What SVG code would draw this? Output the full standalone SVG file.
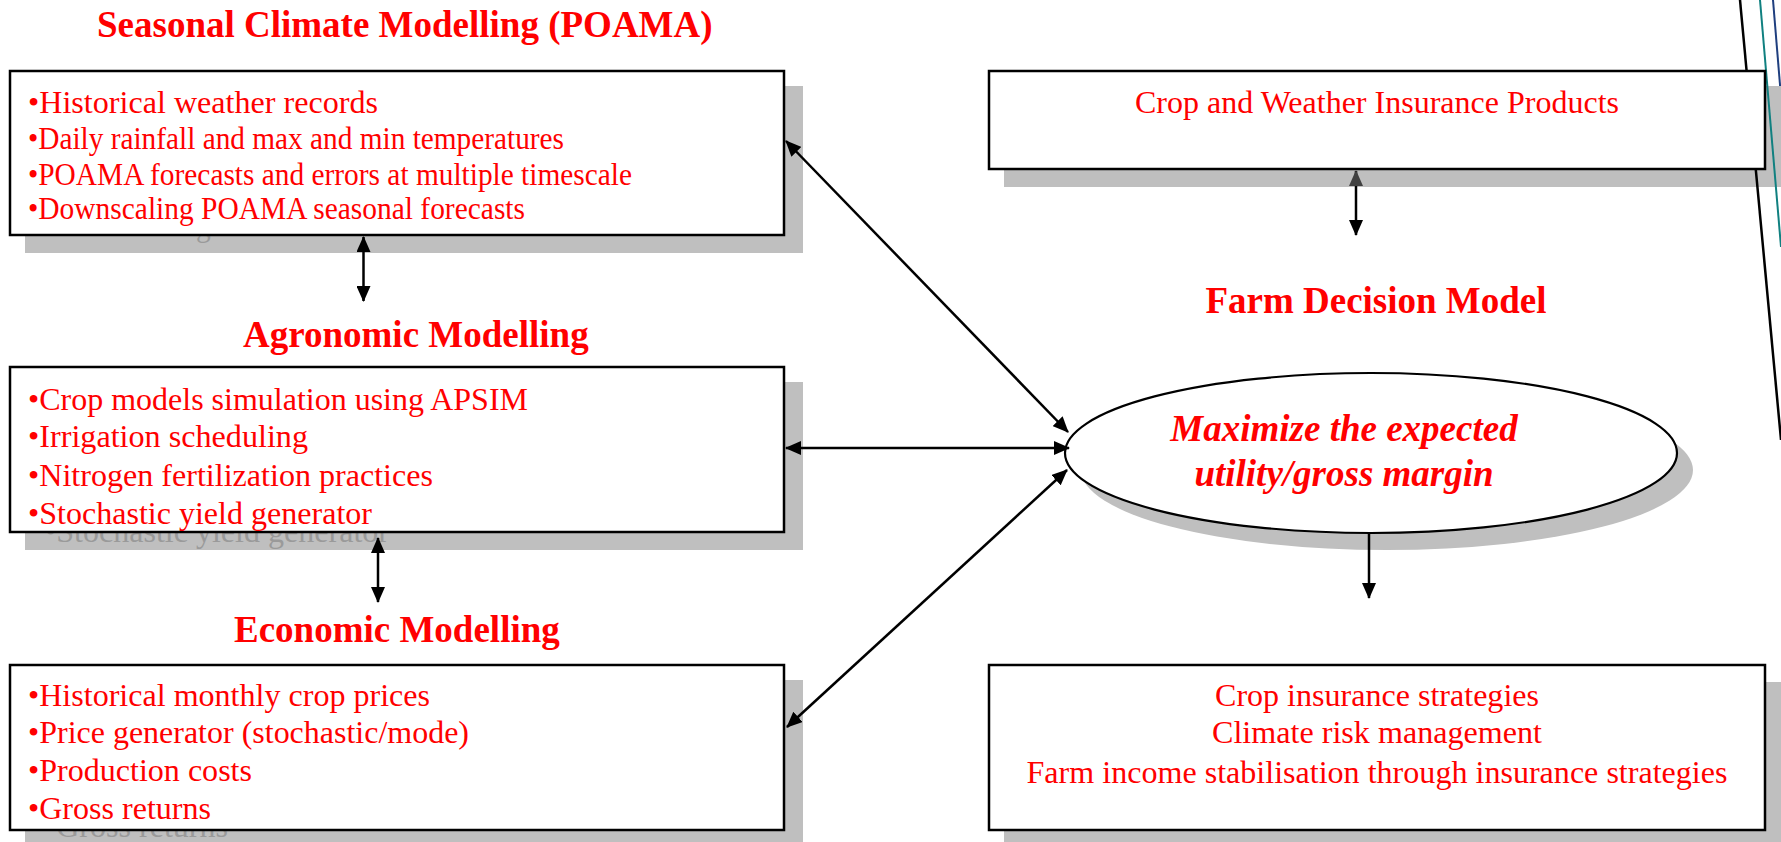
<svg xmlns="http://www.w3.org/2000/svg" width="1781" height="842" viewBox="0 0 1781 842">
<style>
.bg{fill:#ffffff}
.shadow{fill:#bfbfbf;stroke:none}
.box{fill:#ffffff;stroke:#000000;stroke-width:2.5}
.title{font-family:"Liberation Serif","Times New Roman",serif;font-weight:bold;font-size:37px;fill:#ff0000}
.item{font-family:"Liberation Serif","Times New Roman",serif;font-size:32px;fill:#ff0000}
.ghost{font-family:"Liberation Serif","Times New Roman",serif;font-size:32px;fill:#9a9a9a}
.center{text-anchor:middle}
.emph{font-family:"Liberation Serif","Times New Roman",serif;font-weight:bold;font-style:italic;font-size:37px;fill:#ff0000;text-anchor:middle}
.conn{stroke:#000000;stroke-width:2.5;fill:none}
</style>
<defs>
<marker id="ah" viewBox="0 0 16 14" refX="15" refY="7" markerWidth="16" markerHeight="14" markerUnits="userSpaceOnUse" orient="auto-start-reverse">
<path d="M0,0 L16,7 L0,14 z" fill="#000000"/>
</marker>
<marker id="ahg" viewBox="0 0 16 14" refX="15" refY="7" markerWidth="16" markerHeight="14" markerUnits="userSpaceOnUse" orient="auto-start-reverse">
<path d="M0,0 L16,7 L0,14 z" fill="#404040"/>
</marker>
</defs>
<rect class="bg" x="0" y="0" width="1781" height="842"/>

<g id="deco-lines">
<line x1="1773" y1="0" x2="1781" y2="97" stroke="#1f3f7f" stroke-width="2"/>
</g>

<text class="title" x="97" y="37">Seasonal Climate Modelling (POAMA)</text>
<text class="title" x="243" y="347">Agronomic Modelling</text>
<text class="title" x="234" y="642">Economic Modelling</text>
<text class="title center" x="1376" y="313">Farm Decision Model</text>

<g id="seasonal-box">
<rect class="shadow" x="25" y="86" width="778" height="167"/>
<text class="ghost" x="45" y="236" textLength="497" lengthAdjust="spacingAndGlyphs">•Downscaling POAMA seasonal forecasts</text>
<rect class="box" x="10" y="71" width="774" height="164"/>
<text class="item" x="28" y="113" textLength="350" lengthAdjust="spacingAndGlyphs">•Historical weather records</text>
<text class="item" x="28" y="149" textLength="536" lengthAdjust="spacingAndGlyphs">•Daily rainfall and max and min temperatures</text>
<text class="item" x="28" y="185" textLength="604" lengthAdjust="spacingAndGlyphs">•POAMA forecasts and errors at multiple timescale</text>
<text class="item" x="28" y="219" textLength="497" lengthAdjust="spacingAndGlyphs">•Downscaling POAMA seasonal forecasts</text>
</g>

<g id="agronomic-box">
<rect class="shadow" x="25" y="382" width="778" height="168"/>
<text class="ghost" x="45" y="542" textLength="344" lengthAdjust="spacingAndGlyphs">•Stochastic yield generator</text>
<rect class="box" x="10" y="367" width="774" height="165"/>
<text class="item" x="28" y="410" textLength="500" lengthAdjust="spacingAndGlyphs">•Crop models simulation using APSIM</text>
<text class="item" x="28" y="447" textLength="280" lengthAdjust="spacingAndGlyphs">•Irrigation scheduling</text>
<text class="item" x="28" y="486" textLength="405" lengthAdjust="spacingAndGlyphs">•Nitrogen fertilization practices</text>
<text class="item" x="28" y="524" textLength="344" lengthAdjust="spacingAndGlyphs">•Stochastic yield generator</text>
</g>

<g id="economic-box">
<rect class="shadow" x="25" y="680" width="778" height="162"/>
<text class="ghost" x="45" y="837" textLength="183" lengthAdjust="spacingAndGlyphs">•Gross returns</text>
<rect class="box" x="10" y="665" width="774" height="165"/>
<text class="item" x="28" y="706" textLength="402" lengthAdjust="spacingAndGlyphs">•Historical monthly crop prices</text>
<text class="item" x="28" y="743" textLength="441" lengthAdjust="spacingAndGlyphs">•Price generator (stochastic/mode)</text>
<text class="item" x="28" y="781" textLength="224" lengthAdjust="spacingAndGlyphs">•Production costs</text>
<text class="item" x="28" y="819" textLength="183" lengthAdjust="spacingAndGlyphs">•Gross returns</text>
</g>

<g id="insurance-box">
<rect class="shadow" x="1004" y="86" width="790" height="101"/>
<line x1="1740" y1="0" x2="1781" y2="440" stroke="#000000" stroke-width="2.5"/>
<line x1="1760" y1="0" x2="1781" y2="247" stroke="#108080" stroke-width="2"/>
<rect class="box" x="989" y="71" width="776" height="98"/>
<text class="item center" x="1377" y="113" textLength="484" lengthAdjust="spacingAndGlyphs">Crop and Weather Insurance Products</text>
</g>

<g id="decision-ellipse">
<ellipse class="shadow" cx="1387" cy="470" rx="306" ry="80"/>
<ellipse cx="1371" cy="453" rx="306" ry="80" fill="#ffffff" stroke="#000000" stroke-width="2.2"/>
<text class="emph" x="1344" y="441">Maximize the expected</text>
<text class="emph" x="1344" y="486">utility/gross margin</text>
</g>

<g id="outcomes-box">
<rect class="shadow" x="1004" y="682" width="790" height="160"/>
<rect class="box" x="989" y="665" width="776" height="165"/>
<text class="item center" x="1377" y="706" textLength="324" lengthAdjust="spacingAndGlyphs">Crop insurance strategies</text>
<text class="item center" x="1377" y="743" textLength="330" lengthAdjust="spacingAndGlyphs">Climate risk management</text>
<text class="item center" x="1377" y="783" textLength="701" lengthAdjust="spacingAndGlyphs">Farm income stabilisation through insurance strategies</text>
</g>

<g id="connectors">
<line class="conn" x1="786" y1="141" x2="1068" y2="432" marker-start="url(#ah)" marker-end="url(#ah)"/>
<line class="conn" x1="786" y1="448" x2="1069" y2="448" marker-start="url(#ah)" marker-end="url(#ah)"/>
<line class="conn" x1="787" y1="727" x2="1067" y2="470" marker-start="url(#ah)" marker-end="url(#ah)"/>
<line class="conn" x1="363.5" y1="237" x2="363.5" y2="301" marker-start="url(#ah)" marker-end="url(#ah)"/>
<line class="conn" x1="378" y1="538" x2="378" y2="602" marker-start="url(#ah)" marker-end="url(#ah)"/>
<line class="conn" x1="1356" y1="171" x2="1356" y2="235" marker-start="url(#ahg)" marker-end="url(#ah)"/>
<line class="conn" x1="1369" y1="533" x2="1369" y2="598" marker-end="url(#ah)"/>
</g>
</svg>
